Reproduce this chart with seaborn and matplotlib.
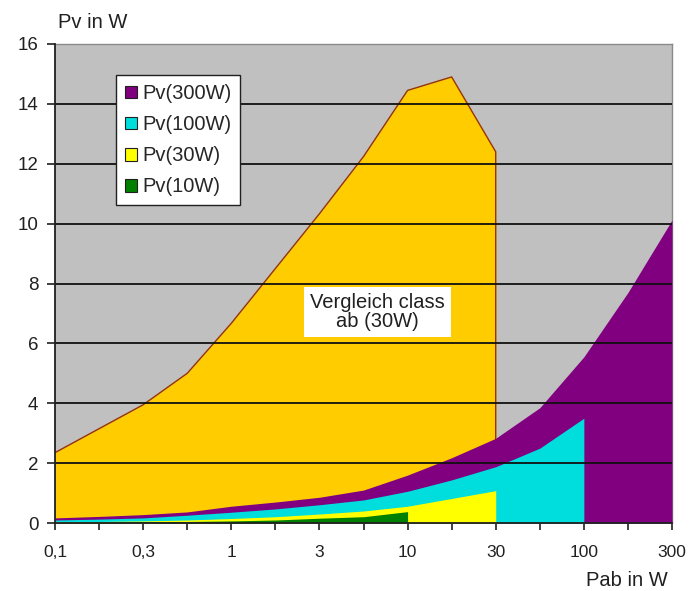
import numpy as np
import pandas as pd
import matplotlib
matplotlib.use("Agg")
import matplotlib.pyplot as plt
import seaborn as sns
from matplotlib.patches import Patch

# Output power categories (W) and their axis labels (every other one shown)
pab = [0.1, 0.2, 0.3, 0.5, 1, 2, 3, 5, 10, 20, 30, 50, 100, 200, 300]
pab_labels = ["0,1", "", "0,3", "", "1", "", "3", "", "10", "", "30", "", "100", "", "300"]

# Loss power Pv (W) for each amplifier class, up to its rated output
pv_ab30 = [2.35, 3.15, 3.95, 5.0, 6.67, 8.5, 10.33, 12.24, 14.45, 14.9, 12.4]
pv_300 = [0.17, 0.22, 0.28, 0.37, 0.56, 0.7, 0.86, 1.1, 1.6, 2.18, 2.83, 3.85, 5.55, 7.7, 10.12]
pv_100 = [0.1, 0.13, 0.17, 0.26, 0.36, 0.47, 0.61, 0.77, 1.06, 1.44, 1.88, 2.5, 3.5]
pv_30 = [0.04, 0.05, 0.07, 0.1, 0.15, 0.21, 0.3, 0.4, 0.56, 0.82, 1.08]
pv_10 = [0.02, 0.03, 0.04, 0.05, 0.07, 0.1, 0.16, 0.21, 0.38]

series_names = ["Pv(300W)", "Pv(100W)", "Pv(30W)", "Pv(10W)"]
series_colors = ["#800080", "#00DDDD", "#FFFF00", "#008000"]

sns.set_style("white")
plt.rcParams["font.family"] = ["Liberation Sans", "DejaVu Sans"]

fig = plt.figure(figsize=(6.89, 5.91), dpi=100)
ax = fig.add_axes([55 / 689, 1 - 523 / 591, (672 - 55) / 689, (523 - 44) / 591])
ax.set_facecolor("#C0C0C0")

x = np.arange(len(pab))

# class-ab comparison area, drawn behind the other series
n_ab = len(pv_ab30)
ax.fill_between(x[:n_ab], pv_ab30, color="#FFCC00", lw=0, zorder=1)
outline = pd.DataFrame({"x": list(x[:n_ab]) + [x[n_ab - 1]],
                        "y": pv_ab30 + [0.0]})
sns.lineplot(data=outline, x="x", y="y", sort=False, estimator=None,
             color="#993300", lw=1.0, ax=ax, zorder=2, legend=False)

# overlapping (non-stacked) areas, largest rating at the back
for vals, col, z in zip([pv_300, pv_100, pv_30, pv_10], series_colors, [3, 4, 5, 6]):
    n = len(vals)
    ax.fill_between(x[:n], vals, color=col, lw=0, zorder=z)

# horizontal gridlines on top of the areas
for v in range(2, 16, 2):
    ax.axhline(v, color="#101010", lw=1.3, zorder=8)

ax.set_xlim(0, len(pab) - 1)
ax.set_ylim(0, 16)
ax.set_yticks(range(0, 17, 2))
ax.set_xticks(x)
ax.set_xticklabels(pab_labels)
ax.set_xlabel("")
ax.set_ylabel("")
ax.tick_params(axis="x", direction="out", length=5, width=1.2, pad=11,
               labelsize=12.5, colors="#202020", bottom=True)
ax.tick_params(axis="y", direction="out", length=6, width=1.2, pad=6,
               labelsize=13.5, colors="#202020", left=True)

for side in ["left", "bottom"]:
    ax.spines[side].set_color("#202020")
    ax.spines[side].set_linewidth(1.3)
    ax.spines[side].set_zorder(9)
for side in ["top", "right"]:
    ax.spines[side].set_color("#8A8A8A")
    ax.spines[side].set_linewidth(1.0)

# annotation for the comparison area
ax.text(7.32, 7.05, "Vergleich class\nab (30W)", ha="center", va="center",
        fontsize=14.5, color="#202020", linespacing=1.0, zorder=12,
        bbox=dict(boxstyle="square,pad=0.3", facecolor="white", edgecolor="none"))

handles = [Patch(facecolor=c, edgecolor="#202020", lw=0.8) for c in series_colors]
leg = ax.legend(handles, series_names, loc="upper left",
                bbox_to_anchor=((116 - 55) / 617, (523 - 75) / 479),
                fontsize=14.5, frameon=True, fancybox=False, framealpha=1,
                edgecolor="#202020", handlelength=0.6, handleheight=0.6,
                handletextpad=0.25, labelspacing=0.6, borderpad=0.45,
                borderaxespad=0)
leg.get_frame().set_linewidth(1.0)
leg.set_zorder(15)

fig.text(58 / 689, 1 - 22 / 591, "Pv in W", ha="left", va="center",
         fontsize=14.5, color="#202020")
fig.text(668 / 689, 1 - 581 / 591, "Pab in W", ha="right", va="center",
         fontsize=14.5, color="#202020")

fig.savefig("out.png", dpi=100, facecolor="white")
